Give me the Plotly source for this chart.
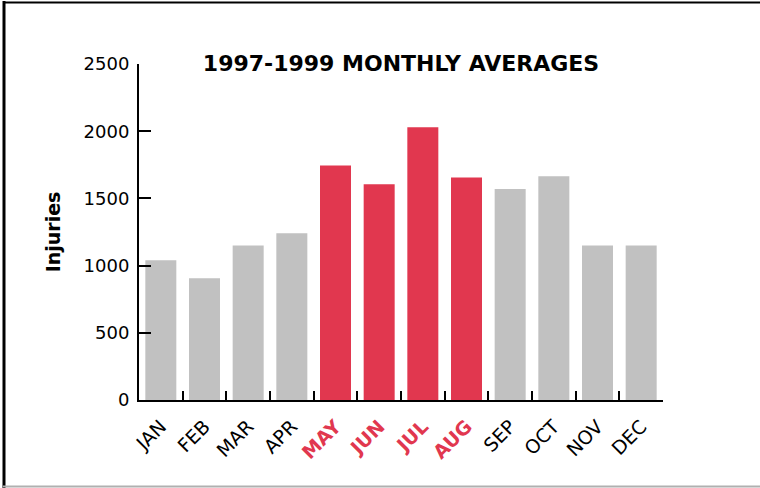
import plotly.graph_objects as go

months = ["JAN", "FEB", "MAR", "APR", "MAY", "JUN", "JUL", "AUG", "SEP", "OCT", "NOV", "DEC"]
injuries = [1040, 905, 1150, 1240, 1745, 1605, 2030, 1655, 1570, 1665, 1150, 1150]
summer = [False, False, False, False, True, True, True, True, False, False, False, False]
y_ticks = [0, 500, 1000, 1500, 2000, 2500]

RED = "#E1374F"
GRAY = "#C1C1C1"
FONT = "DejaVu Sans"

bar_colors = [RED if s else GRAY for s in summer]
tick_text = [
    f"<span style='color:{RED}'><b>{m}</b></span>" if s else m
    for m, s in zip(months, summer)
]

fig = go.Figure(
    go.Bar(x=months, y=injuries, marker=dict(color=bar_colors, line=dict(width=0)))
)

W, H = 760, 488
L, R, T, B = 139, 97, 64, 88
pw, ph = W - L - R, H - T - B

def px_x(p):
    return (p - L) / pw

def px_y(p):
    return (H - B - p) / ph

fig.update_layout(
    width=W,
    height=H,
    margin=dict(l=L, r=R, t=T, b=B, autoexpand=False),
    paper_bgcolor="white",
    plot_bgcolor="white",
    bargap=0.29,
    showlegend=False,
    font=dict(family=FONT, color="black", size=18),
    title=dict(
        text="<b>1997-1999 MONTHLY AVERAGES</b>",
        x=0.5, xref="paper", xanchor="center",
        y=1 - 63 / H, yref="container", yanchor="middle",
        font=dict(family=FONT, size=22, color="black"),
    ),
    xaxis=dict(
        tickvals=months,
        ticktext=tick_text,
        tickangle=-45,
        tickson="boundaries",
        ticks="inside",
        ticklen=9,
        tickwidth=2,
        tickcolor="black",
        showline=True,
        linewidth=2,
        linecolor="black",
        showgrid=False,
        range=[-0.5, 11.5],
        ticklabelstandoff=6,
        tickfont=dict(family=FONT, size=19, color="black"),
    ),
    yaxis=dict(
        range=[0, 2500],
        tickvals=y_ticks,
        ticks="inside",
        ticklen=12,
        tickwidth=2,
        tickcolor="black",
        showline=True,
        linewidth=2,
        linecolor="black",
        showgrid=False,
        zeroline=False,
        ticklabelstandoff=4,
        tickfont=dict(family=FONT, size=18, color="black"),
        title=dict(text="<b>Injuries</b>", font=dict(family=FONT, size=19, color="black"), standoff=18),
    ),
    shapes=[
        dict(type="line", xref="paper", yref="paper", x0=px_x(4), x1=px_x(4), y0=px_y(1), y1=px_y(488),
             line=dict(color="black", width=3)),
        dict(type="line", xref="paper", yref="paper", x0=px_x(3), x1=px_x(760), y0=px_y(2.5), y1=px_y(2.5),
             line=dict(color="black", width=2)),
        dict(type="line", xref="paper", yref="paper", x0=px_x(3), x1=px_x(760), y0=px_y(486.5), y1=px_y(486.5),
             line=dict(color="#B0B0B0", width=2)),
    ],
)

fig.write_html(
    "out.html",
    config={"displayModeBar": False},
    post_script="document.body.style.margin='0px';",
)
